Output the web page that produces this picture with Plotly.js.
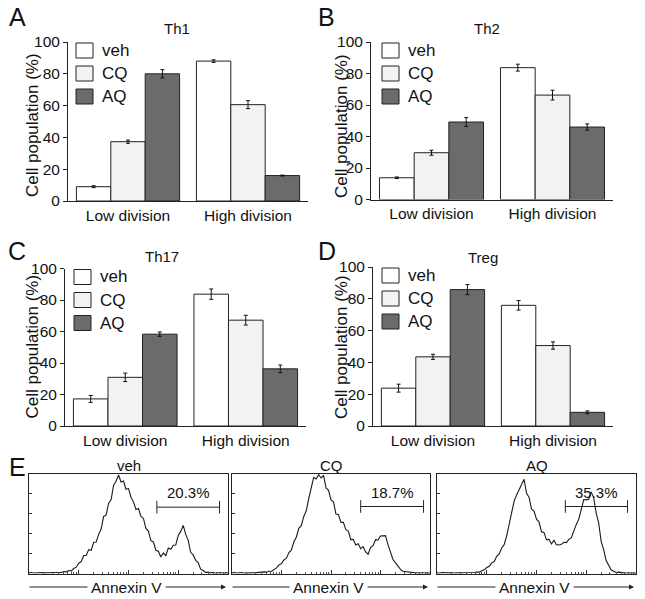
<!DOCTYPE html>
<html>
<head>
<meta charset="utf-8">
<script src="https://cdn.plot.ly/plotly-3.0.1.min.js"></script>
<style>
  html, body { margin: 0; padding: 0; background: #fff; }
  #fig { width: 645px; height: 599px; }
</style>
</head>
<body>
<div id="fig"></div>
<script>
// ---- data ----
const groups = ['Low division', 'High division'];
const treatments = ['veh', 'CQ', 'AQ'];

// Th1
const th1Veh = [9, 88],    th1VehErr = [0.6, 0.8];
const th1CQ  = [37.3, 60.6], th1CQErr = [1, 2.5];
const th1AQ  = [80, 16],   th1AQErr  = [2.6, 0.3];
// Th2
const th2Veh = [13.8, 83.7], th2VehErr = [0.5, 2.2];
const th2CQ  = [29.7, 66.3], th2CQErr  = [1.6, 3.1];
const th2AQ  = [49.2, 46],   th2AQErr  = [2.8, 2];
// Th17
const th17Veh = [17.2, 83.7], th17VehErr = [2.2, 3.3];
const th17CQ  = [30.9, 67.2], th17CQErr  = [2.7, 3.1];
const th17AQ  = [58.3, 36.3], th17AQErr  = [1.4, 2.4];
// Treg
const tregVeh = [23.8, 75.9], tregVehErr = [2.5, 3];
const tregCQ  = [43.5, 50.6], tregCQErr  = [1.6, 2.3];
const tregAQ  = [85.8, 8.6],  tregAQErr  = [3.2, 0.9];

// Annexin V histograms (x in log decades, y in counts)
const decades = [0,0.05,0.1,0.15,0.2,0.25,0.3,0.35,0.4,0.45,
  0.5,0.55,0.6,0.65,0.7,0.75,0.8,0.85,0.9,0.95,
  1,1.05,1.1,1.15,1.2,1.25,1.3,1.35,1.4,1.45,
  1.5,1.55,1.6,1.65,1.7,1.75,1.8,1.85,1.9,1.95,
  2,2.05,2.1,2.15,2.2,2.25,2.3,2.35,2.4,2.45,
  2.5,2.55,2.6,2.65,2.7,2.75,2.8,2.85,2.9,2.95,
  3,3.05,3.1,3.15,3.2,3.25,3.3,3.35,3.4,3.45,
  3.5,3.55,3.6,3.65,3.7,3.75,3.8,3.85,3.9,3.95,4];
const vehCounts = [2,3,1,2,1,3,2,1,2,3,
  3,2,4,3,6,5,9,8,15,19,
  31,36,54,55,72,70,94,95,118,134,
  172,176,212,222,266,278,297,276,279,254,
  256,230,216,193,196,172,166,136,128,99,
  95,70,67,50,62,54,77,73,85,86,
  115,127,145,118,100,64,56,40,33,13,
  9,3,4,2,3,1,2,3,1,2,2];
const cqCounts = [2,3,1,2,3,1,2,3,2,2,
  3,4,3,5,4,7,7,13,17,26,
  30,41,46,63,71,95,110,136,144,172,
  189,226,254,290,285,298,288,296,258,251,
  222,216,179,178,154,154,132,128,102,103,
  86,90,75,81,65,58,79,84,102,101,
  113,113,114,88,67,43,33,21,13,7,
  6,3,2,3,2,2,1,3,1,2,1];
const aqCounts = [2,1,3,2,1,2,3,1,2,2,
  3,1,2,3,2,3,4,4,8,11,
  18,22,32,36,52,59,77,87,113,147,
  188,218,237,252,268,284,242,230,194,188,
  164,156,126,124,102,103,89,100,87,86,
  88,94,93,103,108,130,148,164,192,223,
  222,224,246,228,182,152,97,72,39,24,
  11,7,3,4,2,2,1,3,1,2,1];
const histNames = ['veh', 'CQ', 'AQ'];
const gateLo = [2.57, 2.6, 2.58];
const gateHi = [3.83, 3.87, 3.83];
const gateLevel = [200, 202, 202];
const gateLabels = ['20.3%', '18.7%', '35.3%'];

// ---- helpers ----
const W = 645, H = 599;
const px = x => x / W;
const py = y => 1 - y / H;
const FONT = 'Liberation Sans, Arial, sans-serif';
const colors = ['#ffffff', '#f2f2f2', '#6b6b6b'];

const traces = [];
const panels = [
  {vals: [th1Veh, th1CQ, th1AQ], errs: [th1VehErr, th1CQErr, th1AQErr]},
  {vals: [th2Veh, th2CQ, th2AQ], errs: [th2VehErr, th2CQErr, th2AQErr]},
  {vals: [th17Veh, th17CQ, th17AQ], errs: [th17VehErr, th17CQErr, th17AQErr]},
  {vals: [tregVeh, tregCQ, tregAQ], errs: [tregVehErr, tregCQErr, tregAQErr]}
];
panels.forEach((p, i) => {
  const n = i === 0 ? '' : String(i + 1);
  treatments.forEach((t, j) => {
    traces.push({
      type: 'bar', name: t, x: groups, y: p.vals[j],
      xaxis: 'x' + n, yaxis: 'y' + n,
      marker: {color: colors[j], line: {color: '#222', width: 1}},
      error_y: {type: 'data', array: p.errs[j], color: '#111', thickness: 1, width: 2},
      showlegend: false
    });
  });
});
[vehCounts, cqCounts, aqCounts].forEach((c, k) => {
  traces.push({
    type: 'scatter', mode: 'lines', x: decades, y: c,
    xaxis: 'x' + (k + 5), yaxis: 'y' + (k + 5),
    line: {color: '#1a1a1a', width: 1.1}, showlegend: false, hoverinfo: 'skip'
  });
});

// bar panel geometry in pixels:
// [xLeft, xRight, yTop, yBottom, legendX, titleX, titleY, letter, letterX, letterY, title, yTitleX, yTitleY]
const geo = [
  [68, 308, 42, 201, 76, 177, 28, 'A', 17, 17, 'Th1', 32, 125],
  [371, 613, 42, 199.5, 382, 487, 28, 'B', 326, 17, 'Th2', 341, 126],
  [65, 306, 268.5, 426, 74, 162, 256, 'C', 17, 251, 'Th17', 31.5, 347],
  [373, 613, 267, 426, 382, 483, 257, 'D', 327, 251, 'Treg', 341, 347]
];

const layout = {
  width: W, height: H,
  margin: {l: 0, r: 0, t: 0, b: 0},
  paper_bgcolor: '#fff', plot_bgcolor: 'rgba(0,0,0,0)',
  font: {family: FONT, size: 14, color: '#111'},
  showlegend: false,
  barmode: 'group', bargap: 0.14, bargroupgap: 0,
  shapes: [], annotations: []
};

geo.forEach((g, i) => {
  const n = i === 0 ? '' : String(i + 1);
  layout['xaxis' + n] = {
    domain: [px(g[0]), px(g[1])], anchor: 'y' + n,
    type: 'category', range: [-0.5, 1.5],
    showline: true, linecolor: '#222', linewidth: 1,
    ticks: '', showgrid: false, zeroline: false,
    tickfont: {size: 15.5}, fixedrange: true
  };
  layout['yaxis' + n] = {
    domain: [py(g[3]), py(g[2])], anchor: 'x' + n,
    range: [0, 100], tickvals: [0, 20, 40, 60, 80, 100],
    showline: true, linecolor: '#222', linewidth: 1,
    ticks: 'outside', ticklen: 4, tickcolor: '#222',
    showgrid: false, zeroline: false, tickfont: {size: 15.5},
    fixedrange: true
  };
  // y axis title
  layout.annotations.push({xref: 'paper', yref: 'paper', x: px(g[11]), y: py(g[12]),
    text: 'Cell population (%)', textangle: -90, showarrow: false, font: {size: 17},
    xanchor: 'center', yanchor: 'middle'});
  // legend boxes
  treatments.forEach((t, j) => {
    const top = g[2] + 1 + j * 23;
    layout.shapes.push({type: 'rect', xref: 'paper', yref: 'paper',
      x0: px(g[4]), x1: px(g[4] + 17), y0: py(top + 15), y1: py(top),
      fillcolor: colors[j], line: {color: '#222', width: 1}});
    layout.annotations.push({xref: 'paper', yref: 'paper', x: px(g[4] + 24), y: py(top + 7.5),
      xanchor: 'left', yanchor: 'middle', text: t, showarrow: false, font: {size: 17}});
  });
  layout.annotations.push({xref: 'paper', yref: 'paper', x: px(g[5]), y: py(g[6]),
    xanchor: 'center', yanchor: 'middle', text: g[10], showarrow: false, font: {size: 15}});
  layout.annotations.push({xref: 'paper', yref: 'paper', x: px(g[8]), y: py(g[9]),
    xanchor: 'center', yanchor: 'middle', text: g[7], showarrow: false, font: {size: 25}});
});

// histogram panels
const hx = [[29, 228], [232, 430], [437, 636]];
const hTop = 474, hBot = 573.5;
const minorVals = [];
for (let d = 0; d < 4; d++) for (let k = 2; k <= 9; k++) minorVals.push(d + Math.log10(k));
hx.forEach((h, k) => {
  const n = k + 5;
  layout['xaxis' + n] = {
    domain: [px(h[0]), px(h[1])], anchor: 'y' + n, range: [0, 4],
    showline: true, mirror: true, linecolor: '#222', linewidth: 1,
    ticks: 'inside', ticklen: 4, tickcolor: '#333', tickvals: [0, 1, 2, 3, 4],
    showticklabels: false, showgrid: false, zeroline: false,
    minor: {tickvals: minorVals, ticks: 'inside', ticklen: 2, tickcolor: '#555', showgrid: false},
    fixedrange: true
  };
  layout['yaxis' + n] = {
    domain: [py(hBot), py(hTop)], anchor: 'x' + n, range: [0, 300],
    showline: true, mirror: true, linecolor: '#222', linewidth: 1,
    ticks: 'inside', ticklen: 3, tickcolor: '#333', tickvals: [0, 60, 120, 180, 240, 300],
    showticklabels: false, showgrid: false, zeroline: false, fixedrange: true
  };
  const xr = 'x' + n, yr = 'y' + n;
  // gate
  layout.shapes.push({type: 'line', xref: xr, yref: yr, x0: gateLo[k], x1: gateHi[k],
    y0: gateLevel[k], y1: gateLevel[k], line: {color: '#222', width: 1}});
  [gateLo[k], gateHi[k]].forEach(xv => layout.shapes.push({type: 'line', xref: xr, yref: yr,
    x0: xv, x1: xv, y0: gateLevel[k] - 19, y1: gateLevel[k] + 19, line: {color: '#222', width: 1}}));
  layout.annotations.push({xref: xr, yref: yr, x: (gateLo[k] + gateHi[k]) / 2, y: 245,
    text: gateLabels[k], showarrow: false, font: {size: 15}, xanchor: 'center', yanchor: 'middle'});
  // panel title
  layout.annotations.push({xref: xr, yref: 'paper', x: 2, y: py(465),
    text: histNames[k], showarrow: false, font: {size: 15}, xanchor: 'center', yanchor: 'middle'});
  // Annexin V axis arrow
  layout.annotations.push({xref: 'paper', yref: 'paper', x: px(h[1] - 2), y: py(587),
    text: '', showarrow: true, ax: -(h[1] - h[0] - 1), ay: 0,
    arrowhead: 2, arrowsize: 1, arrowwidth: 1, arrowcolor: '#222'});
  layout.annotations.push({xref: 'paper', yref: 'paper', x: px((h[0] + h[1]) / 2 - 2), y: py(587),
    text: 'Annexin V', showarrow: false, font: {size: 15.5}, bgcolor: '#fff', borderpad: 3,
    xanchor: 'center', yanchor: 'middle'});
});
layout.annotations.push({xref: 'paper', yref: 'paper', x: px(17), y: py(467),
  text: 'E', showarrow: false, font: {size: 25}, xanchor: 'center', yanchor: 'middle'});

Plotly.newPlot('fig', traces, layout, {staticPlot: true, displayModeBar: false});
</script>
</body>
</html>
